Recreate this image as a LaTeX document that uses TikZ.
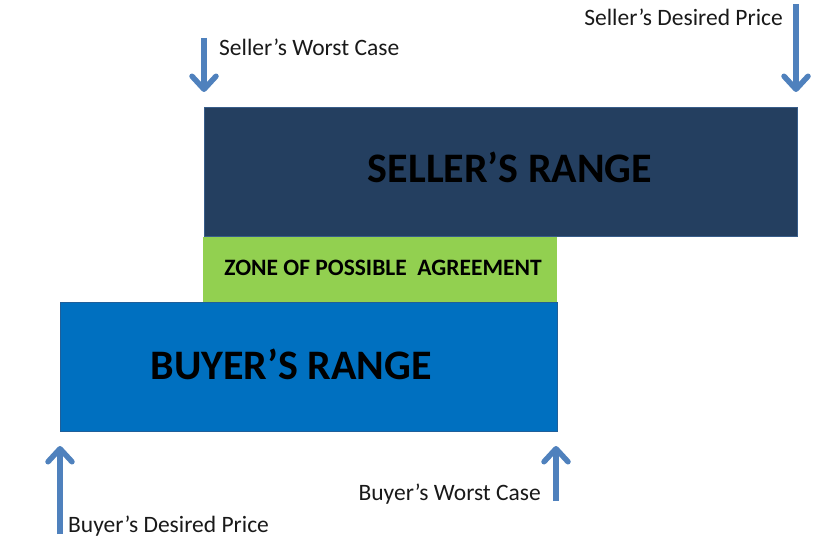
\documentclass[tikz,border=0pt]{standalone}
\usepackage{fontspec}
\setmainfont{Carlito}
\usetikzlibrary{arrows.meta}
\definecolor{sellerc}{HTML}{243F60}
\definecolor{sellerb}{HTML}{385D8A}
\definecolor{buyerc}{HTML}{0070C0}
\definecolor{buyerb}{HTML}{1F5F9A}
\definecolor{zopac}{HTML}{92D050}
\definecolor{arrowc}{HTML}{4F81BD}
\tikzset{
  rangebox/.style={anchor=north west, inner sep=0pt, outer sep=0pt},
  arr/.style={draw=arrowc, line width=5.5pt, -{Straight Barb[length=13pt,width=24pt,line width=5.5pt,round]}},
  lbl/.style={font=\fontsize{23.5}{26}\selectfont, inner sep=0pt, text=black!90},
  title/.style={font=\bfseries\fontsize{42}{46}\selectfont, inner sep=0pt, text=black},
}
\begin{document}
\begin{tikzpicture}[x=1pt,y=-1pt]
\useasboundingbox (0,0) rectangle (830,548);
% boxes
\node[rangebox, fill=sellerc, draw=sellerb, line width=1pt, minimum width=593pt, minimum height=129pt] (seller) at (204,108) {};
\node[rangebox, fill=zopac, minimum width=354pt, minimum height=65pt] (zopa) at (203,237) {};
\node[rangebox, fill=buyerc, draw=buyerb, line width=1pt, minimum width=497pt, minimum height=129pt] (buyer) at (60,302) {};
% texts
\node[title] (sellert) at (510,167) {SELLER’S RANGE};
\node[title] (buyert) at (291,364) {BUYER’S RANGE};
\node[font=\bfseries\fontsize{23.5}{26}\selectfont, inner sep=0pt, text=black] (zopat) at (383,268) {ZONE OF POSSIBLE\ \ AGREEMENT};
% arrow end points
\coordinate (swc0) at (204,38);  \coordinate (swc1) at (204,92);
\coordinate (sdp0) at (796,4);   \coordinate (sdp1) at (796,92);
\coordinate (bdp0) at (60,534);  \coordinate (bdp1) at (60,446);
\coordinate (bwc0) at (556,501); \coordinate (bwc1) at (556,446);
\draw[arr] (swc0) -- (swc1);
\draw[arr] (sdp0) -- (sdp1);
\draw[arr] (bdp0) -- (bdp1);
\draw[arr] (bwc0) -- (bwc1);
% labels
\node[lbl, anchor=west] (swct) at (219,47) {Seller’s Worst Case};
\node[lbl, anchor=east] (sdpt) at (783,17) {Seller’s Desired Price};
\node[lbl, anchor=west] (bdpt) at (68,526) {Buyer’s Desired Price};
\node[lbl, anchor=east] (bwct) at (541,494) {Buyer’s Worst Case};
\end{tikzpicture}
\end{document}
